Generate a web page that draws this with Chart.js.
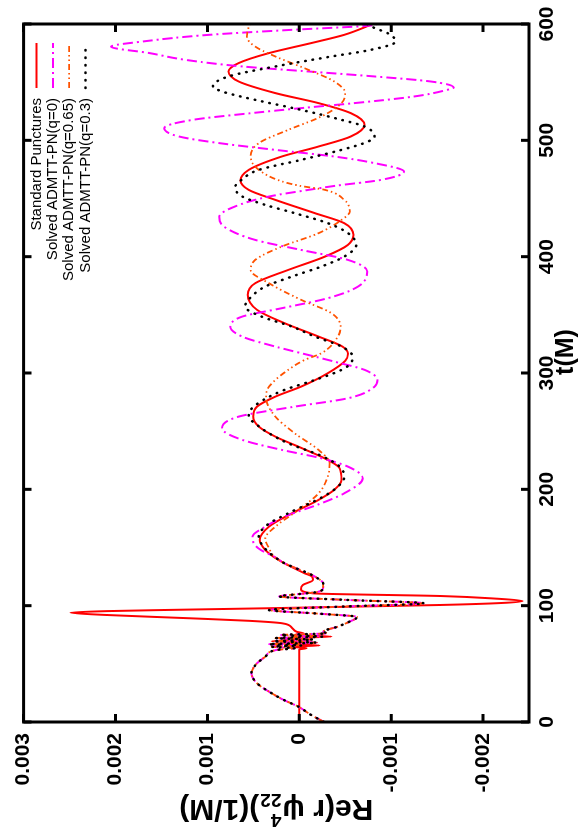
<!DOCTYPE html>
<html>
<head>
<meta charset="utf-8">
<script src="https://cdn.jsdelivr.net/npm/chart.js@4.4.1/dist/chart.umd.min.js"></script>
<style>
html,body{margin:0;padding:0;background:#fff;overflow:hidden;width:581px;height:830px;}
#wrap{position:absolute;left:0;top:0;width:830px;height:581px;transform-origin:0 0;transform:translate(0,830px) rotate(-90deg);background:#fff;}
canvas{display:block;}
</style>
</head>
<body>
<div id="wrap"><canvas id="c" width="830" height="581"></canvas></div>
<script>
// ---------- DATA (values in units of 1e-3 1/M) ----------
const UNIT = 1e-3;
const tTicks = [0, 100, 200, 300, 400, 500, 600];
const tTickLabels = ['0', '100', '200', '300', '400', '500', '600'];
const vTicks = [0.003, 0.002, 0.001, 0, -0.001, -0.002];
const vTickLabels = ['0.003', '0.002', '0.001', '0', '-0.001', '-0.002'];
const seriesNames = ['Standard Punctures', 'Solved ADMTT-PN(q=0)', 'Solved ADMTT-PN(q=0.65)', 'Solved ADMTT-PN(q=0.3)'];

// shared early part of the three ADMTT-PN runs
const tEarly = [0, 6, 13.2, 19, 24.7, 33.3, 41.9, 50.5, 56.1, 61.9, 63.5, 64.7, 65.8, 66.9, 68.2, 69.4, 70.8, 72.1, 73.4, 74.8, 76.2, 77.6, 82, 86, 90.3, 93.2, 96.3, 99.3, 102, 105, 108, 110, 112, 115.5, 119.2, 123.5, 127.8, 132, 136.4, 142];
const vEarly = [-0.27, -0.13, 0.01, 0.17, 0.30, 0.46, 0.52, 0.46, 0.37, 0.25, 0.05, 0.30, -0.02, 0.33, -0.19, 0.28, -0.15, 0.26, -0.25, 0.20, -0.30, -0.26, -0.42, -0.54, -0.63, -0.2, 0.33, -0.5, -1.36, -0.5, 0.22, 0.0, -0.21, -0.26, -0.26, -0.2, -0.10, 0.03, 0.16, 0.27];

const tStd = [0, 30, 60.5, 62.3, 63.5, 64.8, 65.8, 67, 68.3, 69.4, 70.8, 72, 73.4, 74.8, 76, 77.6, 81, 84.9, 87, 89.2, 92, 94, 95.3, 96.3, 97.8, 99.2, 100.6, 102.3, 104, 106, 108.3, 110.6, 114.1, 117.8, 122.1, 125, 127.8, 132, 136.4, 142,
  147.9, 156.5, 167.9, 179.4, 190.9, 199.5, 208, 218.1, 225.3, 236.7, 245.3, 253.9, 262.5, 271.1, 279.7, 288.3, 299.8, 310.5, 316.5, 322.7, 331.3, 342.8, 354.3, 367.2, 377.2, 388.6, 400.1, 410.1, 418.7, 428.8, 437.4, 448.8, 457.4, 465.5, 474.6, 486.1, 494.7, 503.3, 513.3, 523.4, 532, 540.6, 550.6, 559.2, 566.4, 575, 583.6, 590.7, 600];
const vStd = [0, 0, 0, 0, -0.08, 0.1, -0.22, 0.15, -0.18, 0.3, -0.1, 0.2, -0.35, 0.05, -0.05, 0.03, 0.08, 0.19, 0.55, 1.20, 2.10, 2.49, 2.1, 1.45, 0.33, -0.6, -1.54, -2.2, -2.43, -2.15, -1.54, -0.15, -0.02, -0.04, -0.15, -0.14, -0.06, 0.05, 0.16, 0.28,
  0.37, 0.43, 0.33, 0.08, -0.21, -0.38, -0.46, -0.44, -0.31, 0.01, 0.26, 0.44, 0.50, 0.46, 0.26, -0.02, -0.31, -0.50, -0.53, -0.47, -0.21, 0.16, 0.46, 0.56, 0.48, 0.12, -0.28, -0.53, -0.59, -0.49, -0.17, 0.26, 0.55, 0.64, 0.55, 0.19, -0.21, -0.56, -0.71, -0.56, -0.21, 0.26, 0.66, 0.77, 0.66, 0.33, -0.13, -0.49, -0.80];

const tQ0 = [...tEarly, 147.9, 153, 159.3, 167.9, 176.5, 188, 196.6, 209.5, 219.5, 226.7, 233.9, 242.5, 252.5, 262.5, 271.1, 278.3, 288.3, 294, 302.7, 309, 314.1, 322.7, 331.3, 339.9, 348.5, 355.7, 364.3, 374.3, 387.2, 397.2, 405.8, 414.4, 425.9, 434.5, 443.1, 451.7, 457.4, 461, 466, 473.2, 480.4, 486.1, 491.8, 497.6, 503.3, 510.5, 517.6, 523.4, 527.7, 532, 537.7, 543.4, 545.5, 550.6, 554.9, 559.2, 563.5, 569.2, 575, 580.5, 585, 590.7, 595, 598.5, 600];
const vQ0 = [...vEarly, 0.42, 0.49, 0.51, 0.37, 0.16, -0.24, -0.49, -0.69, -0.53, -0.24, 0.19, 0.62, 0.84, 0.66, 0.05, -0.53, -0.82, -0.85, -0.71, -0.42, -0.17, 0.26, 0.62, 0.75, 0.62, 0.19, -0.31, -0.64, -0.74, -0.53, -0.02, 0.48, 0.82, 0.87, 0.70, 0.33, -0.1, -0.4, -0.89, -1.14, -0.82, -0.38, 0.26, 0.87, 1.31, 1.47, 1.16, 0.52, -0.02, -0.60, -1.25, -1.61, -1.68, -1.43, -0.82, -0.10, 0.62, 1.24, 1.63, 2.05, 1.70, 0.98, 0.08, -0.75, -0.85];

const tQ065 = [...tEarly, 149.4, 157.9, 167.9, 182.3, 196.6, 210.9, 222.4, 233.9, 248.2, 262.5, 274, 280, 285.5, 294, 302.7, 311.3, 317, 331.3, 339.9, 351.4, 362.9, 377.2, 388.6, 397.2, 408.7, 420.2, 431.6, 438.8, 448.8, 457.4, 461, 465, 474.6, 486.1, 497.6, 509, 520.5, 532, 540.6, 550.6, 560.6, 572.1, 580.6, 589.2, 597.3, 600];
const vQ065 = [...vEarly, 0.33, 0.37, 0.26, 0.01, -0.21, -0.31, -0.33, -0.21, 0.05, 0.26, 0.35, 0.36, 0.35, 0.26, 0.12, -0.06, -0.24, -0.42, -0.45, -0.35, -0.02, 0.33, 0.53, 0.48, 0.19, -0.21, -0.46, -0.55, -0.49, -0.28, 0.0, 0.2, 0.44, 0.53, 0.44, 0.12, -0.24, -0.46, -0.50, -0.38, -0.10, 0.26, 0.48, 0.57, 0.55, 0.53];

const tQ03 = [...tEarly, 147.9, 159.3, 169.4, 179.4, 193.7, 202.3, 210.9, 219.5, 228.1, 239.6, 248.2, 255.4, 262.5, 268.3, 276.9, 285.5, 294, 302.7, 308.4, 314.1, 322.7, 331.3, 339.9, 348.5, 357.1, 365.7, 374.3, 382.9, 391.5, 400.1, 410.1, 420.2, 428.8, 437.4, 444.5, 451.7, 459.5, 466, 474.6, 483.2, 491.8, 499, 503.3, 511.9, 517.6, 526.2, 534.8, 542, 546.3, 554.9, 563.5, 572.1, 577.8, 585, 592.2, 596.5, 600];
const vQ03 = [...vEarly, 0.36, 0.44, 0.35, 0.12, -0.26, -0.42, -0.49, -0.44, -0.26, 0.12, 0.33, 0.46, 0.55, 0.53, 0.39, 0.16, -0.17, -0.46, -0.56, -0.58, -0.46, -0.17, 0.08, 0.41, 0.59, 0.52, 0.37, 0.08, -0.24, -0.49, -0.62, -0.53, -0.31, 0.05, 0.37, 0.62, 0.70, 0.63, 0.44, -0.02, -0.46, -0.75, -0.82, -0.71, -0.46, -0.02, 0.48, 0.84, 0.94, 0.77, 0.26, -0.35, -0.78, -1.05, -0.96, -0.82, -0.74];

// ---------- build ----------
const FONT = '"Liberation Sans", Arial, Helvetica, sans-serif';
function pts(ts, vs) { return ts.map((t, i) => ({ x: t, y: vs[i] * UNIT })); }

const styles = [
  { color: '#ff0000', width: 2, dash: [], cap: 'butt' },
  { color: '#ff00ff', width: 2, dash: [10, 4, 2, 4], cap: 'butt' },
  { color: '#ff5200', width: 1.8, dash: [6, 3, 1.5, 3, 1.5, 3], cap: 'butt' },
  { color: '#000000', width: 2.5, dash: [0.5, 7], cap: 'round' }
];
const seriesData = [pts(tStd, vStd), pts(tQ0, vQ0), pts(tQ065, vQ065), pts(tQ03, vQ03)];

const datasets = seriesData.map((d, i) => ({
  label: seriesNames[i],
  data: d,
  borderColor: styles[i].color,
  backgroundColor: styles[i].color,
  borderWidth: styles[i].width,
  borderDash: styles[i].dash,
  borderCapStyle: styles[i].cap,
  pointRadius: 0,
  fill: false,
  cubicInterpolationMode: 'monotone',
  order: 3 - i
}));

const framePlugin = {
  id: 'frame',
  afterDatasetsDraw(chart) {
    const { ctx, chartArea: a, scales: { x, y } } = chart;
    ctx.save();
    ctx.strokeStyle = '#000';
    ctx.lineWidth = 3;
    ctx.lineCap = 'butt';
    ctx.beginPath();
    const tl = 8;
    tTicks.forEach(t => {
      const px = x.getPixelForValue(t);
      ctx.moveTo(px, a.bottom); ctx.lineTo(px, a.bottom - tl);
      ctx.moveTo(px, a.top); ctx.lineTo(px, a.top + tl);
    });
    vTicks.forEach(v => {
      const py = y.getPixelForValue(v);
      ctx.moveTo(a.left, py); ctx.lineTo(a.left + tl, py);
      ctx.moveTo(a.right, py); ctx.lineTo(a.right - tl, py);
    });
    ctx.stroke();
    ctx.strokeRect(a.left, a.top, a.right - a.left, a.bottom - a.top);
    ctx.restore();
  }
};

const legendPlugin = {
  id: 'gnuLegend',
  afterDraw(chart) {
    const { ctx, chartArea: a } = chart;
    ctx.save();
    ctx.font = '15px ' + FONT;
    ctx.fillStyle = '#000';
    ctx.textAlign = 'right';
    ctx.textBaseline = 'middle';
    seriesNames.forEach((name, i) => {
      const yy = a.top + 13 + 16.3 * i;
      ctx.fillText(name, a.right - 74, yy);
      ctx.beginPath();
      ctx.strokeStyle = styles[i].color;
      ctx.lineWidth = styles[i].width;
      ctx.setLineDash(styles[i].dash);
      ctx.lineCap = styles[i].cap;
      ctx.moveTo(a.right - 64, yy);
      ctx.lineTo(a.right - 19, yy);
      ctx.stroke();
    });
    ctx.restore();
  }
};

const titlePlugin = {
  id: 'titles',
  afterDraw(chart) {
    const { ctx, chartArea: a } = chart;
    ctx.save();
    ctx.fillStyle = '#000';
    // y title, rotated
    const main = 'bold 30px ' + FONT, small = 'bold 19px ' + FONT;
    const p1 = 'Re(r ψ', p2 = ')(1/M)';
    ctx.font = main; const w1 = ctx.measureText(p1).width, w3 = ctx.measureText(p2).width;
    ctx.font = small; const wSup = ctx.measureText('4').width, wSub = ctx.measureText('22').width;
    const ws = Math.max(wSup, wSub) + 2;
    const total = w1 + ws + w3;
    ctx.translate(30, (a.top + a.bottom) / 2);
    ctx.rotate(-Math.PI / 2);
    ctx.textAlign = 'left';
    ctx.textBaseline = 'alphabetic';
    let xx = -total / 2;
    ctx.font = main; ctx.fillText(p1, xx, 0); xx += w1;
    ctx.font = small; ctx.fillText('4', xx + 1, -14); ctx.fillText('22', xx + 1, 6); xx += ws;
    ctx.font = main; ctx.fillText(p2, xx, 0);
    ctx.restore();
    // x title
    ctx.save();
    ctx.fillStyle = '#000';
    ctx.font = 'bold 25px ' + FONT;
    ctx.textAlign = 'center';
    ctx.textBaseline = 'alphabetic';
    ctx.fillText('t(M)', 478, 573);
    ctx.restore();
  }
};

new Chart(document.getElementById('c'), {
  type: 'line',
  data: { datasets },
  options: {
    responsive: false,
    animation: false,
    devicePixelRatio: 1,
    layout: { padding: { top: 20, right: 24, left: 0, bottom: 0 } },
    plugins: { legend: { display: false }, tooltip: { enabled: false }, title: { display: false } },
    scales: {
      x: {
        type: 'linear', min: 0, max: 600,
        afterBuildTicks: s => { s.ticks = tTicks.map(v => ({ value: v })); },
        afterFit: s => { s.height = 52; },
        grid: { display: false, drawTicks: false },
        border: { display: false },
        ticks: {
          autoSkip: false, maxRotation: 0, padding: 6, color: '#000',
          font: { family: FONT, size: 21, weight: 'bold' },
          callback: (v, i) => tTickLabels[i]
        }
      },
      y: {
        type: 'linear', min: -0.0025, max: 0.003,
        afterBuildTicks: s => { s.ticks = vTicks.slice().reverse().map(v => ({ value: v })); },
        afterFit: s => { s.width = 108; },
        grid: { display: false, drawTicks: false },
        border: { display: false },
        ticks: {
          autoSkip: false, padding: 11, color: '#000',
          font: { family: FONT, size: 21, weight: 'bold' },
          callback: (v, i) => vTickLabels[vTicks.length - 1 - i]
        }
      }
    }
  },
  plugins: [framePlugin, legendPlugin, titlePlugin]
});
</script>
</body>
</html>
